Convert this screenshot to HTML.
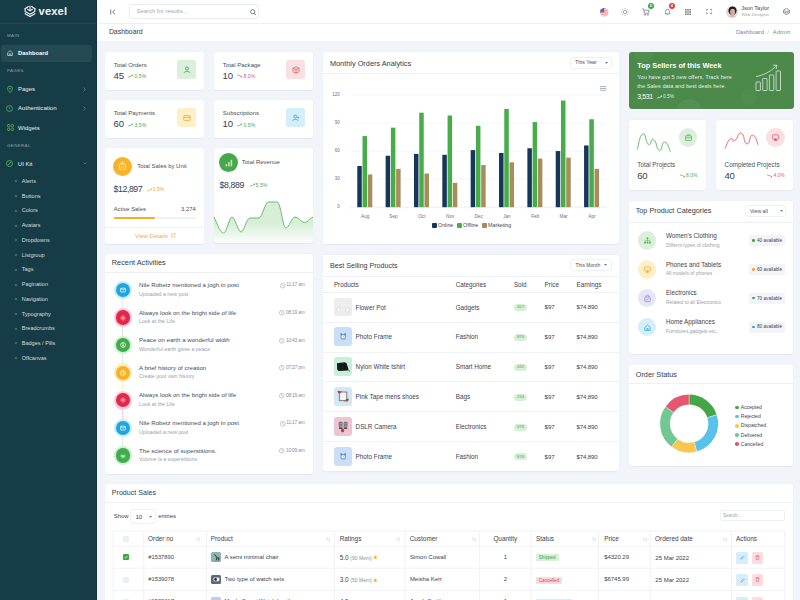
<!DOCTYPE html>
<html><head><meta charset="utf-8"><title>Vexel Dashboard</title>
<style>
html,body{margin:0;padding:0;}
body{width:800px;height:600px;overflow:hidden;position:relative;background:#f0f3f8;font-family:"Liberation Sans",sans-serif;}
.b{position:absolute;display:block;}
.t{position:absolute;white-space:nowrap;line-height:1;}
svg.b{overflow:visible;}
</style></head><body>
<div class="b" style="left:97px;top:0px;width:703px;height:600px;background:#f1f4f8;"></div>
<div class="b" style="left:97px;top:0px;width:703px;height:23px;background:#fff;"></div>
<div class="b" style="left:97px;top:23px;width:703px;height:1px;background:#eef0f3;"></div>
<div class="b" style="left:97px;top:24px;width:703px;height:17px;background:#fff;"></div>
<div class="b" style="left:0px;top:0px;width:97px;height:600px;background:#163d47;"></div>
<div class="b" style="left:96px;top:0px;width:1px;height:600px;background:#12333c;"></div>
<div class="b" style="left:0px;top:23px;width:96px;height:1px;background:rgba(255,255,255,0.06);"></div>
<svg class="b" style="left:24px;top:5.4px;" width="12" height="12.4" viewBox="0 0 12 12.4"><g fill="none" stroke="#f2f5f5" stroke-width="1.15" stroke-linejoin="round" stroke-linecap="round"><path d="M1.1 3.7 L4.3 1.6"/><path d="M7.7 1.6 L10.9 3.7"/><path d="M3.6 4.3 L6 5.9 L8.4 4.3"/><path d="M6 1 V5.4"/><path d="M1.1 3.7 V6.4 L6 9.3 L10.9 6.4 V3.7"/><path d="M1.1 8.7 L6 11.6 L10.9 8.7"/></g></svg>
<div class="t" style="left:38.60px;top:5.91px;font-size:11.2px;color:#f4f7f7;font-weight:700;letter-spacing:0.1px;">vexel</div>
<div class="t" style="left:7.00px;top:34.04px;font-size:4.4px;color:rgba(255,255,255,0.5);font-weight:400;letter-spacing:0.4px;">MAIN</div>
<div class="b" style="left:1.25px;top:44.5px;width:90.5px;height:17.5px;background:rgba(255,255,255,0.07);border-radius:3px;"></div>
<svg class="b" style="left:7px;top:49.5px;" width="6" height="6" viewBox="0 0 6 6"><path d="M0.6 2.8 L3 0.7 L5.4 2.8 L5.4 5.5 L0.6 5.5 Z M2.2 5.5 L2.2 3.8 L3.8 3.8 L3.8 5.5" fill="none" stroke="#c9d3d6" stroke-width="0.7"/></svg>
<div class="t" style="left:18.00px;top:50.58px;font-size:5.75px;color:#fff;font-weight:700;">Dashboard</div>
<div class="t" style="left:7.00px;top:69.34px;font-size:4.4px;color:rgba(255,255,255,0.5);font-weight:400;letter-spacing:0.4px;">PAGES</div>
<svg class="b" style="left:7px;top:85.5px;" width="6" height="7" viewBox="0 0 6 7"><path d="M3 6.6 C1 4.6 0.5 3.6 0.5 2.6 A2.5 2.5 0 0 1 5.5 2.6 C5.5 3.6 5 4.6 3 6.6 Z" fill="none" stroke="#4caf50" stroke-width="0.9"/><circle cx="3" cy="2.6" r="0.9" fill="#4caf50"/></svg>
<div class="t" style="left:18.00px;top:86.26px;font-size:6.0px;color:#e9eef0;font-weight:400;">Pages</div>
<svg class="b" style="left:82.5px;top:86.5px;" width="3" height="5" viewBox="0 0 3 5"><path d="M0.5 0.5 L2.3 2.5 L0.5 4.5" fill="none" stroke="rgba(255,255,255,0.45)" stroke-width="0.6"/></svg>
<svg class="b" style="left:6.3px;top:104.6px;" width="7" height="7" viewBox="0 0 7 7"><circle cx="3.5" cy="3.5" r="3" fill="none" stroke="#4caf50" stroke-width="0.8"/><path d="M3.5 1.8 V4" stroke="#4caf50" stroke-width="0.8"/><circle cx="3.5" cy="5.1" r="0.45" fill="#4caf50"/></svg>
<div class="t" style="left:18.00px;top:105.41px;font-size:6.1px;color:#e9eef0;font-weight:400;">Authentication</div>
<svg class="b" style="left:82.5px;top:105.9px;" width="3" height="5" viewBox="0 0 3 5"><path d="M0.5 0.5 L2.3 2.5 L0.5 4.5" fill="none" stroke="rgba(255,255,255,0.45)" stroke-width="0.6"/></svg>
<svg class="b" style="left:6.8px;top:124px;" width="7" height="7" viewBox="0 0 7 7"><g fill="none" stroke="#4caf50" stroke-width="0.8"><rect x="0.5" y="0.5" width="2.4" height="2.4" rx="0.6"/><rect x="4.1" y="0.5" width="2.4" height="2.4" rx="0.6"/><rect x="0.5" y="4.1" width="2.4" height="2.4" rx="0.6"/><rect x="4.1" y="4.1" width="2.4" height="2.4" rx="0.6"/></g></svg>
<div class="t" style="left:18.00px;top:125.16px;font-size:6.0px;color:#e9eef0;font-weight:400;">Widgets</div>
<div class="t" style="left:7.00px;top:143.84px;font-size:4.4px;color:rgba(255,255,255,0.5);font-weight:400;letter-spacing:0.4px;">GENERAL</div>
<svg class="b" style="left:6.3px;top:159.8px;" width="7" height="7" viewBox="0 0 7 7"><circle cx="3.5" cy="3.5" r="3" fill="none" stroke="#4caf50" stroke-width="0.9"/><path d="M2 5 L4.5 2.5 M3.6 1.8 L5.2 3.4" stroke="#4caf50" stroke-width="0.9"/></svg>
<div class="t" style="left:17.80px;top:160.86px;font-size:6.0px;color:#e9eef0;font-weight:400;">UI Kit</div>
<svg class="b" style="left:82.5px;top:162px;" width="4" height="3" viewBox="0 0 4 3"><path d="M0.5 0.5 L2 2 L3.5 0.5" fill="none" stroke="rgba(255,255,255,0.45)" stroke-width="0.6"/></svg>
<svg class="b" style="left:13.6px;top:179.4px;" width="4" height="4" viewBox="0 0 4 4"><circle cx="2" cy="2" r="1.3" fill="#ffffff" fill-opacity="0.2"/></svg>
<div class="t" style="left:21.75px;top:178.98px;font-size:5.55px;color:#d3dcdf;font-weight:400;">Alerts</div>
<svg class="b" style="left:13.6px;top:194.13px;" width="4" height="4" viewBox="0 0 4 4"><circle cx="2" cy="2" r="1.3" fill="#ffffff" fill-opacity="0.2"/></svg>
<div class="t" style="left:21.75px;top:193.71px;font-size:5.55px;color:#d3dcdf;font-weight:400;">Buttons</div>
<svg class="b" style="left:13.6px;top:208.86px;" width="4" height="4" viewBox="0 0 4 4"><circle cx="2" cy="2" r="1.3" fill="#ffffff" fill-opacity="0.2"/></svg>
<div class="t" style="left:21.75px;top:208.44px;font-size:5.55px;color:#d3dcdf;font-weight:400;">Colors</div>
<svg class="b" style="left:13.6px;top:223.59px;" width="4" height="4" viewBox="0 0 4 4"><circle cx="2" cy="2" r="1.3" fill="#ffffff" fill-opacity="0.2"/></svg>
<div class="t" style="left:21.75px;top:223.17px;font-size:5.55px;color:#d3dcdf;font-weight:400;">Avatars</div>
<svg class="b" style="left:13.6px;top:238.32000000000002px;" width="4" height="4" viewBox="0 0 4 4"><circle cx="2" cy="2" r="1.3" fill="#ffffff" fill-opacity="0.2"/></svg>
<div class="t" style="left:21.75px;top:237.90px;font-size:5.55px;color:#d3dcdf;font-weight:400;">Dropdowns</div>
<svg class="b" style="left:13.6px;top:253.05px;" width="4" height="4" viewBox="0 0 4 4"><circle cx="2" cy="2" r="1.3" fill="#ffffff" fill-opacity="0.2"/></svg>
<div class="t" style="left:21.75px;top:252.63px;font-size:5.55px;color:#d3dcdf;font-weight:400;">Listgroup</div>
<svg class="b" style="left:13.6px;top:267.78000000000003px;" width="4" height="4" viewBox="0 0 4 4"><circle cx="2" cy="2" r="1.3" fill="#ffffff" fill-opacity="0.2"/></svg>
<div class="t" style="left:21.75px;top:267.36px;font-size:5.55px;color:#d3dcdf;font-weight:400;">Tags</div>
<svg class="b" style="left:13.6px;top:282.51000000000005px;" width="4" height="4" viewBox="0 0 4 4"><circle cx="2" cy="2" r="1.3" fill="#ffffff" fill-opacity="0.2"/></svg>
<div class="t" style="left:21.75px;top:282.09px;font-size:5.55px;color:#d3dcdf;font-weight:400;">Pagination</div>
<svg class="b" style="left:13.6px;top:297.24px;" width="4" height="4" viewBox="0 0 4 4"><circle cx="2" cy="2" r="1.3" fill="#ffffff" fill-opacity="0.2"/></svg>
<div class="t" style="left:21.75px;top:296.82px;font-size:5.55px;color:#d3dcdf;font-weight:400;">Navigation</div>
<svg class="b" style="left:13.6px;top:311.97px;" width="4" height="4" viewBox="0 0 4 4"><circle cx="2" cy="2" r="1.3" fill="#ffffff" fill-opacity="0.2"/></svg>
<div class="t" style="left:21.75px;top:311.55px;font-size:5.55px;color:#d3dcdf;font-weight:400;">Typography</div>
<svg class="b" style="left:13.6px;top:326.70000000000005px;" width="4" height="4" viewBox="0 0 4 4"><circle cx="2" cy="2" r="1.3" fill="#ffffff" fill-opacity="0.2"/></svg>
<div class="t" style="left:21.75px;top:326.28px;font-size:5.55px;color:#d3dcdf;font-weight:400;">Breadcrumbs</div>
<svg class="b" style="left:13.6px;top:341.43000000000006px;" width="4" height="4" viewBox="0 0 4 4"><circle cx="2" cy="2" r="1.3" fill="#ffffff" fill-opacity="0.2"/></svg>
<div class="t" style="left:21.75px;top:341.01px;font-size:5.55px;color:#d3dcdf;font-weight:400;">Badges / Pills</div>
<svg class="b" style="left:13.6px;top:356.16px;" width="4" height="4" viewBox="0 0 4 4"><circle cx="2" cy="2" r="1.3" fill="#ffffff" fill-opacity="0.2"/></svg>
<div class="t" style="left:21.75px;top:355.74px;font-size:5.55px;color:#d3dcdf;font-weight:400;">Offcanvas</div>
<svg class="b" style="left:109.5px;top:9px;" width="6" height="6" viewBox="0 0 6 6"><path d="M0.7 0.5 V5.5 M5 0.7 L2.6 3 L5 5.3" fill="none" stroke="#555c68" stroke-width="0.8"/></svg>
<div class="b" style="left:129.3px;top:4.3px;width:129.7px;height:14.399999999999999px;border:0.8px solid #e9ecf0;border-radius:3px;box-sizing:border-box;background:#fff;"></div>
<div class="t" style="left:136.50px;top:9.01px;font-size:5.9px;color:#a3a9b3;font-weight:400;">Search for results...</div>
<svg class="b" style="left:249.5px;top:8.5px;" width="6.5" height="6.5" viewBox="0 0 6.5 6.5"><circle cx="2.7" cy="2.7" r="2.1" fill="none" stroke="#5d6470" stroke-width="0.8"/><path d="M4.3 4.3 L6 6" stroke="#5d6470" stroke-width="0.8"/></svg>
<svg class="b" style="left:599.9px;top:7.5px;" width="8.4" height="8.4" viewBox="0 0 8.4 8.4"><defs><clipPath id="fc"><circle cx="4.2" cy="4.2" r="4.2"/></clipPath></defs><g clip-path="url(#fc)"><rect width="9" height="9" fill="#f7a3ac"/><rect y="1.2" width="9" height="0.9" fill="#fbd3d7"/><rect y="3.2" width="9" height="0.9" fill="#fbd3d7"/><rect y="5.2" width="9" height="0.9" fill="#fbd3d7"/><rect y="7.2" width="9" height="0.9" fill="#fbd3d7"/><rect width="4.3" height="4.4" fill="#5b6fb5"/></g></svg>
<svg class="b" style="left:621px;top:7.5px;" width="8" height="8" viewBox="0 0 8 8"><g stroke="#6b7280" stroke-width="0.6" fill="none"><circle cx="4" cy="4" r="1.7"/><path d="M4 0.3V1.3M4 6.7V7.7M0.3 4H1.3M6.7 4H7.7M1.4 1.4L2.1 2.1M5.9 5.9L6.6 6.6M1.4 6.6L2.1 5.9M5.9 2.1L6.6 1.4"/></g></svg>
<svg class="b" style="left:641.5px;top:8px;" width="8" height="8" viewBox="0 0 8 8"><g stroke="#6b7280" stroke-width="0.7" fill="none"><path d="M0.3 0.8H1.5L2.5 5.2H6.4L7.2 2.2H2"/><circle cx="3" cy="6.7" r="0.6"/><circle cx="6" cy="6.7" r="0.6"/></g></svg>
<div class="b" style="left:647.8px;top:3.2px;width:6.0px;height:5.999999999999999px;background:#3fa843;border-radius:50%;"></div>
<div class="t" style="left:500.80px;width:300px;text-align:center;top:4.24px;font-size:4px;color:#fff;font-weight:700;">5</div>
<svg class="b" style="left:664px;top:7.6px;" width="7" height="8" viewBox="0 0 7 8"><g stroke="#6b7280" stroke-width="0.7" fill="none"><path d="M1 5.8 C1.6 5 1.6 4.2 1.6 3.2 A1.9 1.9 0 0 1 5.4 3.2 C5.4 4.2 5.4 5 6 5.8 Z"/><path d="M2.8 6.8 H4.2"/></g></svg>
<div class="b" style="left:668.8px;top:3.2px;width:6.0px;height:5.999999999999999px;background:#e0374b;border-radius:50%;"></div>
<div class="t" style="left:521.80px;width:300px;text-align:center;top:4.24px;font-size:4px;color:#fff;font-weight:700;">4</div>
<svg class="b" style="left:685px;top:8.8px;" width="6.4" height="6.4" viewBox="0 0 6.4 6.4"><rect x="0.0" y="0.0" width="1.6" height="1.5" rx="0.3" fill="#6f747d"/><rect x="2.2" y="0.0" width="1.6" height="1.5" rx="0.3" fill="#6f747d"/><rect x="4.4" y="0.0" width="1.6" height="1.5" rx="0.3" fill="#6f747d"/><rect x="0.0" y="2.2" width="1.6" height="1.5" rx="0.3" fill="#6f747d"/><rect x="2.2" y="2.2" width="1.6" height="1.5" rx="0.3" fill="#6f747d"/><rect x="4.4" y="2.2" width="1.6" height="1.5" rx="0.3" fill="#6f747d"/><rect x="0.0" y="4.4" width="1.6" height="1.5" rx="0.3" fill="#6f747d"/><rect x="2.2" y="4.4" width="1.6" height="1.5" rx="0.3" fill="#6f747d"/><rect x="4.4" y="4.4" width="1.6" height="1.5" rx="0.3" fill="#6f747d"/></svg>
<svg class="b" style="left:706px;top:8.9px;" width="6" height="5" viewBox="0 0 6 5"><path d="M0.4 1.7V0.4H1.9M4.1 0.4H5.6V1.7M5.6 3.3V4.6H4.1M1.9 4.6H0.4V3.3" fill="none" stroke="#6f747d" stroke-width="0.7"/></svg>
<div class="b" style="left:726px;top:5.7px;width:12.2px;height:12.2px;border-radius:50%;background:#d9d9d9;"></div>
<svg class="b" style="left:726.6px;top:6.3px;" width="11" height="11" viewBox="0 0 11 11"><defs><clipPath id="av"><circle cx="5.5" cy="5.5" r="5.2"/></clipPath></defs><g clip-path="url(#av)"><rect width="11" height="11" fill="#e8e2dc"/><ellipse cx="5.5" cy="4.6" rx="4.1" ry="4.3" fill="#231b18"/><ellipse cx="5.6" cy="5.9" rx="2.5" ry="3.1" fill="#d4ad9a"/><path d="M1.8 11.2 C2.3 8.6 8.8 8.6 9.3 11.2 Z" fill="#cfa893"/></g></svg>
<div class="t" style="left:741.20px;top:5.78px;font-size:5.55px;color:#3e4452;font-weight:400;">Json Taylor</div>
<div class="t" style="left:741.60px;top:13.37px;font-size:4.35px;color:#9aa0aa;font-weight:400;">Web Designer</div>
<svg class="b" style="left:783px;top:8px;" width="7" height="7" viewBox="0 0 7 7"><g fill="none" stroke="#555c68" stroke-width="0.6"><path d="M3.5 0.4 L6.4 2 L6.4 5 L3.5 6.6 L0.6 5 L0.6 2 Z"/><path d="M0.6 3.5 L3.5 5 L6.4 3.5"/><path d="M1.6 2.6 L3.5 3.6 L5.4 2.6"/></g></svg>
<div class="t" style="left:108.90px;top:29.12px;font-size:6.9px;color:#333a48;font-weight:400;">Dashboard</div>
<div class="t" style="left:736.00px;top:29.71px;font-size:5.7px;color:#7783a3;font-weight:400;">Dashboard</div>
<div class="t" style="left:767.30px;top:29.71px;font-size:5.7px;color:#b6bcc6;font-weight:400;">/</div>
<div class="t" style="left:772.80px;top:29.71px;font-size:5.7px;color:#52a456;font-weight:400;letter-spacing:0.3px;">Admin</div>
<div class="b" style="left:105px;top:52px;width:99px;height:37.8px;background:#fff;border-radius:3px;box-shadow:0 0.5px 1.5px rgba(30,40,60,0.06);"></div>
<div class="t" style="left:113.75px;top:61.54px;font-size:6.05px;color:#474e5c;font-weight:400;">Total Orders</div>
<div class="t" style="left:113.60px;top:70.80px;font-size:9.6px;color:#343b49;font-weight:400;letter-spacing:-0.2px;">45</div>
<svg class="b" style="left:128.2px;top:74.2px;" width="5" height="4.2" viewBox="0 0 5 4.2"><path d="M0.3 3.2 L1.9 2.3 L2.7 2.6 L4.2 1.4" fill="none" stroke="#52a856" stroke-width="0.7" stroke-linejoin="round" stroke-linecap="round"/><path d="M3.2 0.95 L5 0.6 L4.5 2.3 Z" fill="#52a856"/></svg>
<div class="t" style="left:134.60px;top:74.40px;font-size:5.1px;color:#52a856;font-weight:400;">0.5%</div>
<div class="b" style="left:177.1px;top:60.1px;width:18.700000000000017px;height:18.800000000000004px;background:#dcefdc;border-radius:2.5px;"></div>
<svg class="b" style="left:182.5px;top:65.5px;" width="8" height="8" viewBox="0 0 8 8"><g fill="none" stroke="#4cae50" stroke-width="0.8"><circle cx="4" cy="2.6" r="1.6"/><path d="M1 7.2 C1 4.8 7 4.8 7 7.2"/></g></svg>
<div class="b" style="left:214px;top:52px;width:99px;height:37.8px;background:#fff;border-radius:3px;box-shadow:0 0.5px 1.5px rgba(30,40,60,0.06);"></div>
<div class="t" style="left:222.75px;top:61.54px;font-size:6.05px;color:#474e5c;font-weight:400;">Total Package</div>
<div class="t" style="left:222.60px;top:70.80px;font-size:9.6px;color:#343b49;font-weight:400;letter-spacing:-0.2px;">10</div>
<svg class="b" style="left:237.2px;top:74.2px;" width="5" height="4.2" viewBox="0 0 5 4.2"><path d="M0.3 0.8 L1.9 1.7 L2.7 1.4 L4.2 2.6" fill="none" stroke="#e0606f" stroke-width="0.7" stroke-linejoin="round" stroke-linecap="round"/><path d="M3.2 3.05 L5 3.4 L4.5 1.7 Z" fill="#e0606f"/></svg>
<div class="t" style="left:243.60px;top:74.40px;font-size:5.1px;color:#e0606f;font-weight:400;">8.0%</div>
<div class="b" style="left:286.1px;top:60.1px;width:18.69999999999999px;height:18.800000000000004px;background:#fbe0e3;border-radius:2.5px;"></div>
<svg class="b" style="left:291.5px;top:65.5px;" width="8" height="8" viewBox="0 0 8 8"><g fill="none" stroke="#e05263" stroke-width="0.75" stroke-linejoin="round"><path d="M4 0.8 L7 2.3 L7 5.7 L4 7.2 L1 5.7 L1 2.3 Z"/><path d="M1 2.3 L4 3.8 L7 2.3 M4 3.8 V7.2"/></g></svg>
<div class="b" style="left:105px;top:100.3px;width:99px;height:37.8px;background:#fff;border-radius:3px;box-shadow:0 0.5px 1.5px rgba(30,40,60,0.06);"></div>
<div class="t" style="left:113.75px;top:109.84px;font-size:6.05px;color:#474e5c;font-weight:400;">Total Payments</div>
<div class="t" style="left:113.60px;top:119.10px;font-size:9.6px;color:#343b49;font-weight:400;letter-spacing:-0.2px;">60</div>
<svg class="b" style="left:128.2px;top:122.5px;" width="5" height="4.2" viewBox="0 0 5 4.2"><path d="M0.3 3.2 L1.9 2.3 L2.7 2.6 L4.2 1.4" fill="none" stroke="#52a856" stroke-width="0.7" stroke-linejoin="round" stroke-linecap="round"/><path d="M3.2 0.95 L5 0.6 L4.5 2.3 Z" fill="#52a856"/></svg>
<div class="t" style="left:134.60px;top:122.70px;font-size:5.1px;color:#52a856;font-weight:400;">3.5%</div>
<div class="b" style="left:177.1px;top:108.39999999999999px;width:18.700000000000017px;height:18.799999999999997px;background:#fdefc8;border-radius:2.5px;"></div>
<svg class="b" style="left:182.5px;top:113.8px;" width="8" height="8" viewBox="0 0 8 8"><g fill="none" stroke="#f2a72c" stroke-width="0.8"><rect x="0.8" y="1.6" width="6.4" height="4.8" rx="0.7"/><path d="M0.8 3.4 H7.2"/></g></svg>
<div class="b" style="left:214px;top:100.3px;width:99px;height:37.8px;background:#fff;border-radius:3px;box-shadow:0 0.5px 1.5px rgba(30,40,60,0.06);"></div>
<div class="t" style="left:222.75px;top:109.84px;font-size:6.05px;color:#474e5c;font-weight:400;">Subscriptions</div>
<div class="t" style="left:222.60px;top:119.10px;font-size:9.6px;color:#343b49;font-weight:400;letter-spacing:-0.2px;">10</div>
<svg class="b" style="left:237.2px;top:122.5px;" width="5" height="4.2" viewBox="0 0 5 4.2"><path d="M0.3 3.2 L1.9 2.3 L2.7 2.6 L4.2 1.4" fill="none" stroke="#52a856" stroke-width="0.7" stroke-linejoin="round" stroke-linecap="round"/><path d="M3.2 0.95 L5 0.6 L4.5 2.3 Z" fill="#52a856"/></svg>
<div class="t" style="left:243.60px;top:122.70px;font-size:5.1px;color:#52a856;font-weight:400;">0.5%</div>
<div class="b" style="left:286.1px;top:108.39999999999999px;width:18.69999999999999px;height:18.799999999999997px;background:#d4eefa;border-radius:2.5px;"></div>
<svg class="b" style="left:291.5px;top:113.8px;" width="8" height="8" viewBox="0 0 8 8"><g fill="none" stroke="#2aa2dc" stroke-width="0.75"><circle cx="3.3" cy="2.6" r="1.5"/><path d="M0.6 7 C0.6 4.8 6 4.8 6 7"/><path d="M6.2 2.8 V4.6 M5.3 3.7 H7.1"/></g></svg>
<div class="b" style="left:105px;top:148.3px;width:99px;height:95.29999999999998px;background:#fff;border-radius:3px;box-shadow:0 0.5px 1.5px rgba(30,40,60,0.06);"></div>
<div class="b" style="left:113.3px;top:156.9px;width:19.000000000000014px;height:19.0px;background:#f6b42a;border-radius:50%;"></div>
<svg class="b" style="left:119.3px;top:162.3px;opacity:0.85" width="7" height="8" viewBox="0 0 7 8"><g fill="none" stroke="#fff" stroke-width="0.7" stroke-linejoin="round"><rect x="0.6" y="2" width="5.8" height="5.3" rx="0.6"/><path d="M2.2 2 V1.2 A1.3 1.3 0 0 1 4.8 1.2 V2"/><path d="M2.3 4.8 L3.2 5.7 L4.8 4"/></g></svg>
<div class="t" style="left:137.30px;top:163.27px;font-size:5.98px;color:#474e5c;font-weight:400;">Total Sales by Unit</div>
<div class="t" style="left:113.60px;top:184.79px;font-size:8.8px;color:#3a404d;font-weight:400;letter-spacing:-0.45px;">$12,897</div>
<svg class="b" style="left:147px;top:187.6px;" width="5" height="4.2" viewBox="0 0 5 4.2"><path d="M0.3 3.2 L1.9 2.3 L2.7 2.6 L4.2 1.4" fill="none" stroke="#f2a84a" stroke-width="0.7" stroke-linejoin="round" stroke-linecap="round"/><path d="M3.2 0.95 L5 0.6 L4.5 2.3 Z" fill="#f2a84a"/></svg>
<div class="t" style="left:152.60px;top:187.25px;font-size:5.2px;color:#f2a84a;font-weight:400;">3.5%</div>
<div class="t" style="left:113.70px;top:206.93px;font-size:5.85px;color:#474e5c;font-weight:400;">Active Sales</div>
<div class="t" style="right:604.30px;top:206.93px;font-size:5.85px;color:#474e5c;font-weight:400;">3,274</div>
<div class="b" style="left:113.7px;top:217.4px;width:81.99999999999999px;height:2.0px;background:#eef1f6;border-radius:1px;"></div>
<div class="b" style="left:113.7px;top:217.4px;width:41.10000000000001px;height:2.0px;background:#f6ad1f;border-radius:1px;"></div>
<div class="b" style="left:105px;top:227.3px;width:99px;height:0.6999999999999886px;background:#f1f3f6;"></div>
<div class="t" style="left:1.50px;width:300px;text-align:center;top:232.76px;font-size:6.0px;color:#f2aa4c;font-weight:400;">View Details</div>
<svg class="b" style="left:171px;top:233.3px;" width="4.6" height="4.6" viewBox="0 0 4.6 4.6"><path d="M2 0.8 H0.6 V4 H3.8 V2.6 M2.6 0.4 H4.2 V2 M4.2 0.4 L2.2 2.4" fill="none" stroke="#f2aa4c" stroke-width="0.55"/></svg>
<div class="b" style="left:214px;top:148.3px;width:98.80000000000001px;height:94.5px;background:#fff;border-radius:3px;box-shadow:0 0.5px 1.5px rgba(30,40,60,0.06);overflow:hidden;"></div>
<div class="b" style="left:219.2px;top:153.2px;width:19.0px;height:19.0px;background:#46a84a;border-radius:50%;"></div>
<svg class="b" style="left:224.7px;top:158.6px;" width="8" height="8" viewBox="0 0 8 8"><g fill="#bfe3c0"><rect x="0.6" y="5" width="1.6" height="2.4"/><rect x="3.1" y="3" width="1.6" height="4.4"/><rect x="5.6" y="0.8" width="1.6" height="6.6"/></g></svg>
<div class="t" style="left:241.80px;top:159.98px;font-size:5.95px;color:#474e5c;font-weight:400;">Total Revenue</div>
<div class="t" style="left:219.60px;top:181.29px;font-size:8.8px;color:#3a404d;font-weight:400;letter-spacing:-0.4px;">$8,889</div>
<svg class="b" style="left:250px;top:183.3px;" width="5" height="4.2" viewBox="0 0 5 4.2"><path d="M0.3 3.2 L1.9 2.3 L2.7 2.6 L4.2 1.4" fill="none" stroke="#52a856" stroke-width="0.7" stroke-linejoin="round" stroke-linecap="round"/><path d="M3.2 0.95 L5 0.6 L4.5 2.3 Z" fill="#52a856"/></svg>
<div class="t" style="left:255.60px;top:182.85px;font-size:5.2px;color:#52a856;font-weight:400;">5.5%</div>
<svg class="b" style="left:214px;top:148.3px;" width="99" height="95" viewBox="0 0 99 95"><defs><linearGradient id="rg" x1="0" y1="0" x2="0" y2="1"><stop offset="0.5" stop-color="#4caf50" stop-opacity="0.22"/><stop offset="1" stop-color="#4caf50" stop-opacity="0.02"/></linearGradient></defs><path d="M0 69 C3 75 6 85 9.5 85 C13 85 15 69 18 69 C21 69 24 84 27 84 C30 84 32.5 70 36 70 L45 70 C48 70 51 54 54.5 54 L63 54 C67 54 68.5 80 72 80 C75 80 77.5 69 81 69 C84.5 69 87 74.5 90.5 74.5 C93.5 74.5 96 70 99 69 L99 95 L0 95 Z" fill="url(#rg)"/><path d="M0 69 C3 75 6 85 9.5 85 C13 85 15 69 18 69 C21 69 24 84 27 84 C30 84 32.5 70 36 70 L45 70 C48 70 51 54 54.5 54 L63 54 C67 54 68.5 80 72 80 C75 80 77.5 69 81 69 C84.5 69 87 74.5 90.5 74.5 C93.5 74.5 96 70 99 69" fill="none" stroke="#5cb85f" stroke-width="0.9"/></svg>
<div class="b" style="left:323px;top:52px;width:295.79999999999995px;height:191.7px;background:#fff;border-radius:3px;box-shadow:0 0.5px 1.5px rgba(30,40,60,0.06);"></div>
<div class="t" style="left:329.90px;top:59.50px;font-size:7.35px;color:#343b49;font-weight:400;">Monthly Orders Analytics</div>
<div class="b" style="left:323px;top:73.2px;width:295.79999999999995px;height:0.7000000000000028px;background:#eef0f4;"></div>
<div class="b" style="left:569.6px;top:56.9px;width:42.799999999999955px;height:11.899999999999999px;border:0.7px solid #edf0f4;border-radius:3px;box-sizing:border-box;"></div>
<div class="t" style="left:575.00px;top:60.35px;font-size:5.2px;color:#4a5160;font-weight:400;">This Year</div>
<svg class="b" style="left:604.5px;top:61.8px;" width="3" height="2" viewBox="0 0 3 2"><path d="M0 0 H3 L1.5 1.8 Z" fill="#6b7280"/></svg>
<svg class="b" style="left:600px;top:86px;" width="6.3" height="5" viewBox="0 0 6.3 5"><g stroke="#a3aebb" stroke-width="0.95"><path d="M0 0.6H6.3M0 2.45H6.3M0 4.3H6.3"/></g></svg>
<div class="t" style="right:460.20px;top:204.99px;font-size:4.5px;color:#6b7280;font-weight:400;">0</div>
<div class="t" style="right:460.20px;top:176.92px;font-size:4.5px;color:#6b7280;font-weight:400;">30</div>
<div class="t" style="right:460.20px;top:148.85px;font-size:4.5px;color:#6b7280;font-weight:400;">60</div>
<div class="t" style="right:460.20px;top:120.78px;font-size:4.5px;color:#6b7280;font-weight:400;">90</div>
<div class="t" style="right:460.20px;top:92.71px;font-size:4.5px;color:#6b7280;font-weight:400;">120</div>
<div class="t" style="left:215.18px;width:300px;text-align:center;top:215.10px;font-size:4.7px;color:#6b7280;font-weight:400;">Aug</div>
<div class="t" style="left:243.53px;width:300px;text-align:center;top:215.10px;font-size:4.7px;color:#6b7280;font-weight:400;">Sep</div>
<div class="t" style="left:271.88px;width:300px;text-align:center;top:215.10px;font-size:4.7px;color:#6b7280;font-weight:400;">Oct</div>
<div class="t" style="left:300.23px;width:300px;text-align:center;top:215.10px;font-size:4.7px;color:#6b7280;font-weight:400;">Nov</div>
<div class="t" style="left:328.57px;width:300px;text-align:center;top:215.10px;font-size:4.7px;color:#6b7280;font-weight:400;">Dec</div>
<div class="t" style="left:356.93px;width:300px;text-align:center;top:215.10px;font-size:4.7px;color:#6b7280;font-weight:400;">Jan</div>
<div class="t" style="left:385.27px;width:300px;text-align:center;top:215.10px;font-size:4.7px;color:#6b7280;font-weight:400;">Feb</div>
<div class="t" style="left:413.62px;width:300px;text-align:center;top:215.10px;font-size:4.7px;color:#6b7280;font-weight:400;">Mar</div>
<div class="t" style="left:441.97px;width:300px;text-align:center;top:215.10px;font-size:4.7px;color:#6b7280;font-weight:400;">Apr</div>
<svg class="b" style="left:0px;top:0px;pointer-events:none;" width="800" height="600" viewBox="0 0 800 600"><path d="M351 179.13 H606.2" stroke="#eceef2" stroke-width="0.6"/><path d="M351 151.06 H606.2" stroke="#eceef2" stroke-width="0.6"/><path d="M351 122.99 H606.2" stroke="#eceef2" stroke-width="0.6"/><path d="M351 94.92 H606.2" stroke="#eceef2" stroke-width="0.6"/><path d="M351 207.20 H606.2" stroke="#e2e5ea" stroke-width="0.6"/><path d="M351.00 207.20 V209.20" stroke="#e2e5ea" stroke-width="0.5"/><path d="M379.35 207.20 V209.20" stroke="#e2e5ea" stroke-width="0.5"/><path d="M407.70 207.20 V209.20" stroke="#e2e5ea" stroke-width="0.5"/><path d="M436.05 207.20 V209.20" stroke="#e2e5ea" stroke-width="0.5"/><path d="M464.40 207.20 V209.20" stroke="#e2e5ea" stroke-width="0.5"/><path d="M492.75 207.20 V209.20" stroke="#e2e5ea" stroke-width="0.5"/><path d="M521.10 207.20 V209.20" stroke="#e2e5ea" stroke-width="0.5"/><path d="M549.45 207.20 V209.20" stroke="#e2e5ea" stroke-width="0.5"/><path d="M577.80 207.20 V209.20" stroke="#e2e5ea" stroke-width="0.5"/><path d="M606.15 207.20 V209.20" stroke="#e2e5ea" stroke-width="0.5"/><rect x="357.28" y="166.03" width="4.5" height="41.17" fill="#16365a"/><rect x="362.53" y="136.09" width="4.5" height="71.11" fill="#46ad49"/><rect x="367.78" y="174.45" width="4.5" height="32.75" fill="#a88d5c"/><rect x="385.63" y="155.74" width="4.5" height="51.46" fill="#16365a"/><rect x="390.88" y="127.67" width="4.5" height="79.53" fill="#46ad49"/><rect x="396.13" y="168.84" width="4.5" height="38.36" fill="#a88d5c"/><rect x="413.98" y="153.87" width="4.5" height="53.33" fill="#16365a"/><rect x="419.23" y="112.70" width="4.5" height="94.50" fill="#46ad49"/><rect x="424.48" y="173.52" width="4.5" height="33.68" fill="#a88d5c"/><rect x="442.33" y="154.80" width="4.5" height="52.40" fill="#16365a"/><rect x="447.58" y="115.50" width="4.5" height="91.70" fill="#46ad49"/><rect x="452.83" y="182.87" width="4.5" height="24.33" fill="#a88d5c"/><rect x="470.68" y="150.12" width="4.5" height="57.08" fill="#16365a"/><rect x="475.93" y="125.80" width="4.5" height="81.40" fill="#46ad49"/><rect x="481.18" y="165.09" width="4.5" height="42.10" fill="#a88d5c"/><rect x="499.03" y="152.93" width="4.5" height="54.27" fill="#16365a"/><rect x="504.28" y="108.95" width="4.5" height="98.25" fill="#46ad49"/><rect x="509.53" y="162.29" width="4.5" height="44.91" fill="#a88d5c"/><rect x="527.38" y="148.25" width="4.5" height="58.95" fill="#16365a"/><rect x="532.62" y="122.05" width="4.5" height="85.15" fill="#46ad49"/><rect x="537.88" y="158.55" width="4.5" height="48.65" fill="#a88d5c"/><rect x="555.73" y="151.06" width="4.5" height="56.14" fill="#16365a"/><rect x="560.98" y="100.53" width="4.5" height="106.67" fill="#46ad49"/><rect x="566.23" y="157.61" width="4.5" height="49.59" fill="#a88d5c"/><rect x="584.07" y="145.45" width="4.5" height="61.75" fill="#16365a"/><rect x="589.32" y="119.25" width="4.5" height="87.95" fill="#46ad49"/><rect x="594.57" y="168.84" width="4.5" height="38.36" fill="#a88d5c"/></svg>
<div class="b" style="left:432.1px;top:222.8px;width:4.800000000000011px;height:4.799999999999983px;background:#16365a;border-radius:0.9px;"></div>
<div class="t" style="left:438.10px;top:223.03px;font-size:5.25px;color:#3e4452;font-weight:400;">Online</div>
<div class="b" style="left:457.1px;top:222.8px;width:4.800000000000011px;height:4.799999999999983px;background:#46ad49;border-radius:0.9px;"></div>
<div class="t" style="left:463.10px;top:223.03px;font-size:5.25px;color:#3e4452;font-weight:400;">Offline</div>
<div class="b" style="left:482.1px;top:222.8px;width:4.800000000000011px;height:4.799999999999983px;background:#a88d5c;border-radius:0.9px;"></div>
<div class="t" style="left:488.10px;top:223.03px;font-size:5.25px;color:#3e4452;font-weight:400;">Marketing</div>
<div class="b" style="left:628.3px;top:51.6px;width:165.9000000000001px;height:58.6px;background:#fff;border-radius:3.5px;"></div>
<div class="b" style="left:629px;top:52.3px;width:164.5px;height:57.2px;background:#4b8a4b;border-radius:3px;overflow:hidden;"></div>
<svg class="b" style="left:629px;top:52.3px;" width="164.5" height="57.2" viewBox="0 0 164.5 57.2"><circle cx="60" cy="60" r="13" fill="#ffffff" fill-opacity="0.05"/><circle cx="15" cy="0" r="10" fill="#ffffff" fill-opacity="0.03"/><circle cx="120" cy="45" r="8" fill="#ffffff" fill-opacity="0.03"/></svg>
<div class="t" style="left:637.30px;top:62.20px;font-size:7.35px;color:#fff;font-weight:700;">Top Sellers of this Week</div>
<div class="t" style="left:637.30px;top:74.73px;font-size:5.65px;color:rgba(255,255,255,0.88);font-weight:400;">You have got 5 new offers, Track here</div>
<div class="t" style="left:637.30px;top:83.63px;font-size:5.65px;color:rgba(255,255,255,0.88);font-weight:400;">the Sales data and best deals here.</div>
<div class="t" style="left:637.30px;top:93.47px;font-size:7.0px;color:#fff;font-weight:400;letter-spacing:-0.4px;">3,531</div>
<svg class="b" style="left:657.4px;top:94.6px;" width="5" height="4.2" viewBox="0 0 5 4.2"><path d="M0.3 3.2 L1.9 2.3 L2.7 2.6 L4.2 1.4" fill="none" stroke="#fff" stroke-width="0.7" stroke-linejoin="round" stroke-linecap="round"/><path d="M3.2 0.95 L5 0.6 L4.5 2.3 Z" fill="#fff"/></svg>
<div class="t" style="left:663.00px;top:94.50px;font-size:4.9px;color:rgba(255,255,255,0.85);font-weight:400;">0.5%</div>
<svg class="b" style="left:754.5px;top:63.5px;" width="29" height="27" viewBox="0 0 29 27"><g fill="none" stroke="rgba(255,255,255,0.8)" stroke-width="0.8"><rect x="1" y="18" width="4.4" height="8.5" rx="0.6"/><rect x="7.7" y="14.5" width="4.4" height="12" rx="0.6"/><rect x="14.4" y="11" width="4.4" height="15.5" rx="0.6"/><rect x="21.1" y="7" width="4.4" height="19.5" rx="0.6"/><path d="M1 12.5 C8 11.5 15 8 21.5 1.8"/><path d="M17.8 1.2 L22 1.2 L21.2 5"/></g></svg>
<div class="b" style="left:629px;top:119.9px;width:77px;height:69.69999999999999px;background:#fff;border-radius:3px;box-shadow:0 0.5px 1.5px rgba(30,40,60,0.06);"></div>
<svg class="b" style="left:637.3px;top:130px;" width="36" height="24" viewBox="0 0 36 24"><path d="M0.10 19.40 C2.03 14.23 2.13 5.67 5.90 3.90 C9.67 2.13 7.80 12.27 11.40 14.10 C15.00 15.93 13.03 7.40 16.70 9.40 C20.37 11.40 18.73 19.23 22.40 20.10 C26.07 20.97 24.00 11.50 27.70 12.00 C31.40 12.50 31.57 18.40 33.50 21.60" fill="none" stroke="#5cb264" stroke-width="0.8"/><path d="M0.10 19.40 C2.03 14.23 2.13 5.67 5.90 3.90 C9.67 2.13 7.80 12.27 11.40 14.10 C15.00 15.93 13.03 7.40 16.70 9.40 C20.37 11.40 18.73 19.23 22.40 20.10 C26.07 20.97 24.00 11.50 27.70 12.00 C31.40 12.50 31.57 18.40 33.50 21.60" transform="translate(0 1.2)" fill="none" stroke="#5cb264" stroke-opacity="0.15" stroke-width="1.2"/></svg>
<div class="b" style="left:678.7px;top:128.2px;width:18.59999999999991px;height:18.600000000000023px;background:#dcefdc;border-radius:50%;"></div>
<svg class="b" style="left:684.5px;top:134px;" width="7" height="7" viewBox="0 0 7 7"><g fill="none" stroke="#4caf50" stroke-width="0.7"><rect x="0.5" y="1.8" width="6" height="4.6" rx="0.6"/><path d="M2.5 1.8 V0.8 H4.5 V1.8 M0.5 3.8 H6.5"/></g></svg>
<div class="t" style="left:637.30px;top:161.71px;font-size:6.3px;color:#474e5c;font-weight:400;">Total Projects</div>
<div class="t" style="left:637.20px;top:171.44px;font-size:9.5px;color:#3a404d;font-weight:400;letter-spacing:-0.3px;">60</div>
<svg class="b" style="left:679.6px;top:173.6px;" width="5" height="4.2" viewBox="0 0 5 4.2"><path d="M0.3 0.8 L1.9 1.7 L2.7 1.4 L4.2 2.6" fill="none" stroke="#52a856" stroke-width="0.7" stroke-linejoin="round" stroke-linecap="round"/><path d="M3.2 3.05 L5 3.4 L4.5 1.7 Z" fill="#52a856"/></svg>
<div class="t" style="right:102.50px;top:173.15px;font-size:5.0px;color:#52a856;font-weight:400;">8.0%</div>
<div class="b" style="left:716.3px;top:119.9px;width:77.0px;height:69.69999999999999px;background:#fff;border-radius:3px;box-shadow:0 0.5px 1.5px rgba(30,40,60,0.06);"></div>
<svg class="b" style="left:724.5999999999999px;top:130px;" width="36" height="24" viewBox="0 0 36 24"><path d="M0.00 18.40 C1.77 15.20 2.00 11.50 5.30 8.80 C8.60 6.10 6.23 12.20 9.90 10.30 C13.57 8.40 12.33 1.97 16.30 3.10 C20.27 4.23 18.03 13.00 21.80 13.70 C25.57 14.40 23.77 4.93 27.60 5.20 C31.43 5.47 31.40 11.40 33.30 14.50" fill="none" stroke="#d8626d" stroke-width="0.8"/><path d="M0.00 18.40 C1.77 15.20 2.00 11.50 5.30 8.80 C8.60 6.10 6.23 12.20 9.90 10.30 C13.57 8.40 12.33 1.97 16.30 3.10 C20.27 4.23 18.03 13.00 21.80 13.70 C25.57 14.40 23.77 4.93 27.60 5.20 C31.43 5.47 31.40 11.40 33.30 14.50" transform="translate(0 1.2)" fill="none" stroke="#d8626d" stroke-opacity="0.15" stroke-width="1.2"/></svg>
<div class="b" style="left:766.0px;top:128.2px;width:18.59999999999991px;height:18.600000000000023px;background:#fbe0e3;border-radius:50%;"></div>
<svg class="b" style="left:771.8px;top:134px;" width="7" height="7" viewBox="0 0 7 7"><g fill="none" stroke="#e05263" stroke-width="0.7"><rect x="0.6" y="0.8" width="5.8" height="4.4" rx="0.5"/><path d="M2.2 6.4 L3.5 4.4 L4.8 6.4 Z" fill="#e05263"/></g></svg>
<div class="t" style="left:724.60px;top:161.71px;font-size:6.3px;color:#474e5c;font-weight:400;">Completed Projects</div>
<div class="t" style="left:724.50px;top:171.44px;font-size:9.5px;color:#3a404d;font-weight:400;letter-spacing:-0.3px;">40</div>
<svg class="b" style="left:766.9px;top:173.6px;" width="5" height="4.2" viewBox="0 0 5 4.2"><path d="M0.3 0.8 L1.9 1.7 L2.7 1.4 L4.2 2.6" fill="none" stroke="#e0606f" stroke-width="0.7" stroke-linejoin="round" stroke-linecap="round"/><path d="M3.2 3.05 L5 3.4 L4.5 1.7 Z" fill="#e0606f"/></svg>
<div class="t" style="right:15.20px;top:173.15px;font-size:5.0px;color:#e0606f;font-weight:400;">4.0%</div>
<div class="b" style="left:629px;top:200.5px;width:164px;height:153.8px;background:#fff;border-radius:3px;box-shadow:0 0.5px 1.5px rgba(30,40,60,0.06);"></div>
<div class="t" style="left:635.70px;top:206.55px;font-size:7.25px;color:#343b49;font-weight:400;">Top Product Categories</div>
<div class="b" style="left:744.5px;top:205.2px;width:41.89999999999998px;height:12.0px;border:0.7px solid #edf0f4;border-radius:3px;box-sizing:border-box;"></div>
<div class="t" style="left:750.00px;top:208.75px;font-size:5.2px;color:#4a5160;font-weight:400;">View all</div>
<svg class="b" style="left:779.5px;top:210.2px;" width="3" height="2" viewBox="0 0 3 2"><path d="M0 0 H3 L1.5 1.8 Z" fill="#6b7280"/></svg>
<div class="b" style="left:629px;top:221.8px;width:164px;height:0.6999999999999886px;background:#eef0f4;"></div>
<div class="b" style="left:637.7px;top:230.95000000000002px;width:18.699999999999932px;height:18.69999999999999px;background:#dcefdc;border-radius:50%;"></div>
<svg class="b" style="left:643.6px;top:236.8px;" width="7" height="7" viewBox="0 0 7 7"><g fill="#4caf50"><rect x="2.6" y="0.4" width="1.8" height="1.6" rx="0.3"/><rect x="0.2" y="4.8" width="1.8" height="1.6" rx="0.3"/><rect x="2.6" y="4.8" width="1.8" height="1.6" rx="0.3"/><rect x="5" y="4.8" width="1.8" height="1.6" rx="0.3"/></g><path d="M3.5 2 V4.8 M1.1 4.8 V3.4 H5.9 V4.8" fill="none" stroke="#4caf50" stroke-width="0.5"/></svg>
<div class="t" style="left:665.90px;top:232.61px;font-size:6.3px;color:#3e4452;font-weight:400;">Women's Clothing</div>
<div class="t" style="left:665.90px;top:242.55px;font-size:5.0px;color:#9aa0aa;font-weight:400;">Differnt types of clothing</div>
<div class="b" style="left:749px;top:234.8px;width:35.799999999999955px;height:11.0px;background:#f2f4f7;border-radius:2px;"></div>
<div class="b" style="left:752.4px;top:238.95000000000002px;width:2.7000000000000455px;height:2.6999999999999886px;background:#3fa843;border-radius:50%;"></div>
<div class="t" style="left:757.00px;top:238.70px;font-size:4.7px;color:#3e4452;font-weight:400;">40 available</div>
<div class="b" style="left:637.7px;top:259.84999999999997px;width:18.699999999999932px;height:18.700000000000045px;background:#fdefc8;border-radius:50%;"></div>
<svg class="b" style="left:643.6px;top:265.7px;" width="7" height="7" viewBox="0 0 7 7"><g fill="none" stroke="#f2a72c" stroke-width="0.7"><rect x="0.5" y="1" width="6" height="4" rx="0.5"/><path d="M2.3 6.4 L3.5 4.8 L4.7 6.4 Z" fill="#f2a72c"/></g></svg>
<div class="t" style="left:665.90px;top:261.51px;font-size:6.3px;color:#3e4452;font-weight:400;">Phones and Tablets</div>
<div class="t" style="left:665.90px;top:271.45px;font-size:5.0px;color:#9aa0aa;font-weight:400;">All models of phones</div>
<div class="b" style="left:749px;top:263.7px;width:35.799999999999955px;height:11.0px;background:#f2f4f7;border-radius:2px;"></div>
<div class="b" style="left:752.4px;top:267.84999999999997px;width:2.7000000000000455px;height:2.7000000000000455px;background:#f2a72c;border-radius:50%;"></div>
<div class="t" style="left:757.00px;top:267.60px;font-size:4.7px;color:#3e4452;font-weight:400;">60 available</div>
<div class="b" style="left:637.7px;top:288.75px;width:18.699999999999932px;height:18.700000000000045px;background:#e6e6f8;border-radius:50%;"></div>
<svg class="b" style="left:643.6px;top:294.6px;" width="7" height="7" viewBox="0 0 7 7"><g fill="none" stroke="#7a76d6" stroke-width="0.65"><rect x="0.8" y="2" width="5.4" height="4.6" rx="0.6"/><path d="M2.3 2 V1.3 A1.2 1.2 0 0 1 4.7 1.3 V2"/><path d="M2.4 4.3 L3.2 5.1 L4.6 3.6"/></g></svg>
<div class="t" style="left:665.90px;top:290.41px;font-size:6.3px;color:#3e4452;font-weight:400;">Electronics</div>
<div class="t" style="left:665.90px;top:300.35px;font-size:5.0px;color:#9aa0aa;font-weight:400;">Related to all Electronics</div>
<div class="b" style="left:749px;top:292.6px;width:35.799999999999955px;height:11.0px;background:#f2f4f7;border-radius:2px;"></div>
<div class="b" style="left:752.4px;top:296.75px;width:2.7000000000000455px;height:2.7000000000000455px;background:#3fa843;border-radius:50%;"></div>
<div class="t" style="left:757.00px;top:296.50px;font-size:4.7px;color:#3e4452;font-weight:400;">70 available</div>
<div class="b" style="left:637.7px;top:317.65px;width:18.699999999999932px;height:18.700000000000045px;background:#d4eefa;border-radius:50%;"></div>
<svg class="b" style="left:643.6px;top:323.5px;" width="7" height="7" viewBox="0 0 7 7"><g fill="none" stroke="#2aa2dc" stroke-width="0.7"><path d="M0.8 3.4 L3.5 0.9 L6.2 3.4 V6.4 H0.8 Z"/><path d="M2.8 6.4 V4.6 H4.2 V6.4"/></g></svg>
<div class="t" style="left:665.90px;top:319.31px;font-size:6.3px;color:#3e4452;font-weight:400;">Home Appliances</div>
<div class="t" style="left:665.90px;top:329.25px;font-size:5.0px;color:#9aa0aa;font-weight:400;">Furnitures,gadgets etc..</div>
<div class="b" style="left:749px;top:321.5px;width:35.799999999999955px;height:11.0px;background:#f2f4f7;border-radius:2px;"></div>
<div class="b" style="left:752.4px;top:325.65px;width:2.7000000000000455px;height:2.7000000000000455px;background:#2a9fe0;border-radius:50%;"></div>
<div class="t" style="left:757.00px;top:325.40px;font-size:4.7px;color:#3e4452;font-weight:400;">80 available</div>
<div class="b" style="left:629px;top:365.1px;width:164.29999999999995px;height:100.59999999999997px;background:#fff;border-radius:3px;box-shadow:0 0.5px 1.5px rgba(30,40,60,0.06);"></div>
<div class="t" style="left:635.80px;top:370.55px;font-size:7.25px;color:#343b49;font-weight:400;">Order Status</div>
<div class="b" style="left:629px;top:383.3px;width:164.29999999999995px;height:0.6999999999999886px;background:#eef0f4;"></div>
<svg class="b" style="left:0px;top:0px;pointer-events:none;" width="800" height="600" viewBox="0 0 800 600"><path d="M689.10 399.50 A24.1 24.1 0 0 1 712.02 416.15" fill="none" stroke="#45a648" stroke-width="9.8"/><path d="M712.02 416.15 A24.1 24.1 0 0 1 695.50 446.83" fill="none" stroke="#5ac2ea" stroke-width="9.8"/><path d="M695.50 446.83 A24.1 24.1 0 0 1 674.63 442.87" fill="none" stroke="#f8c750" stroke-width="9.8"/><path d="M674.63 442.87 A24.1 24.1 0 0 1 669.50 409.57" fill="none" stroke="#72c892" stroke-width="9.8"/><path d="M669.50 409.57 A24.1 24.1 0 0 1 689.10 399.50" fill="none" stroke="#e8566e" stroke-width="9.8"/><path d="M689.10 404.40 L689.10 394.10" stroke="#fff" stroke-width="0.5"/><path d="M707.36 417.67 L717.16 414.48" stroke="#fff" stroke-width="0.5"/><path d="M694.20 442.11 L696.93 452.04" stroke="#fff" stroke-width="0.5"/><path d="M677.57 438.95 L671.39 447.19" stroke="#fff" stroke-width="0.5"/><path d="M673.49 412.42 L665.11 406.43" stroke="#fff" stroke-width="0.5"/></svg>
<div class="b" style="left:735.3px;top:405.5px;width:3.6000000000000227px;height:3.6000000000000227px;background:#45a648;border-radius:50%;"></div>
<div class="t" style="left:740.80px;top:404.83px;font-size:5.05px;color:#3e4452;font-weight:400;">Accepted</div>
<div class="b" style="left:735.3px;top:414.73px;width:3.6000000000000227px;height:3.6000000000000227px;background:#5ac2ea;border-radius:50%;"></div>
<div class="t" style="left:740.80px;top:414.06px;font-size:5.05px;color:#3e4452;font-weight:400;">Rejected</div>
<div class="b" style="left:735.3px;top:423.96px;width:3.6000000000000227px;height:3.6000000000000227px;background:#f8c750;border-radius:50%;"></div>
<div class="t" style="left:740.80px;top:423.29px;font-size:5.05px;color:#3e4452;font-weight:400;">Dispatched</div>
<div class="b" style="left:735.3px;top:433.19px;width:3.6000000000000227px;height:3.6000000000000227px;background:#72c892;border-radius:50%;"></div>
<div class="t" style="left:740.80px;top:432.52px;font-size:5.05px;color:#3e4452;font-weight:400;">Delivered</div>
<div class="b" style="left:735.3px;top:442.42px;width:3.6000000000000227px;height:3.6000000000000227px;background:#e8566e;border-radius:50%;"></div>
<div class="t" style="left:740.80px;top:441.75px;font-size:5.05px;color:#3e4452;font-weight:400;">Cancelled</div>
<div class="b" style="left:105px;top:254.1px;width:208px;height:219.70000000000002px;background:#fff;border-radius:3px;box-shadow:0 0.5px 1.5px rgba(30,40,60,0.06);"></div>
<div class="t" style="left:111.80px;top:259.30px;font-size:7.35px;color:#343b49;font-weight:400;">Recent Activities</div>
<div class="b" style="left:105px;top:271.8px;width:208px;height:0.6999999999999886px;background:#eef0f4;"></div>
<div class="b" style="left:122.4px;top:299.20px;width:0;height:9.00px;border-left:0.9px dotted #1fa6df;opacity:0.3;"></div>
<div class="b" style="left:113.5px;top:280.54999999999995px;width:18.69999999999999px;height:18.700000000000045px;background:#c8ebfa;border-radius:50%;"></div>
<div class="b" style="left:115.8px;top:282.84999999999997px;width:14.100000000000009px;height:14.100000000000023px;background:#1fa6df;border-radius:50%;"></div>
<svg class="b" style="left:119.85px;top:286.9px;" width="6" height="6" viewBox="0 0 6 6"><g fill="none" stroke="#fff" stroke-width="0.7"><rect x="0.6" y="1.2" width="4.8" height="3.8" rx="0.4"/><path d="M0.6 1.6 L3 3.2 L5.4 1.6"/></g></svg>
<div class="t" style="left:139.00px;top:281.90px;font-size:6.12px;color:#464c59;font-weight:400;">Nile Robetz mentioned a jogh in post</div>
<div class="t" style="left:139.00px;top:291.63px;font-size:5.25px;color:#9aa0aa;font-weight:400;">Uploaded a new post</div>
<div class="t" style="left:286.33px;top:283.37px;font-size:4.95px;color:#8a909b;font-weight:400;letter-spacing:-0.25px;">11:17 am</div>
<svg class="b" style="left:279.62820312499997px;top:282.54999999999995px;" width="5.5" height="5.5" viewBox="0 0 5.5 5.5"><g fill="none" stroke="#8f95a0" stroke-width="0.5"><circle cx="2.75" cy="2.75" r="2.35"/><path d="M2.75 1.4 V2.85 L3.7 3.5"/></g></svg>
<div class="b" style="left:122.4px;top:326.80px;width:0;height:9.00px;border-left:0.9px dotted #e3264a;opacity:0.3;"></div>
<div class="b" style="left:113.5px;top:308.15px;width:18.69999999999999px;height:18.700000000000045px;background:#f9cdd7;border-radius:50%;"></div>
<div class="b" style="left:115.8px;top:310.45px;width:14.100000000000009px;height:14.100000000000023px;background:#e3264a;border-radius:50%;"></div>
<svg class="b" style="left:119.85px;top:314.5px;" width="6" height="6" viewBox="0 0 6 6"><g fill="none" stroke="#fff" stroke-width="0.7"><circle cx="3" cy="3" r="1.1"/><path d="M3 0.3V1.1M3 4.9V5.7M0.3 3H1.1M4.9 3H5.7M1.1 1.1L1.6 1.6M4.4 4.4L4.9 4.9M1.1 4.9L1.6 4.4M4.4 1.6L4.9 1.1"/></g></svg>
<div class="t" style="left:139.00px;top:309.50px;font-size:6.12px;color:#464c59;font-weight:400;">Always look on the bright side of life</div>
<div class="t" style="left:139.00px;top:319.23px;font-size:5.25px;color:#9aa0aa;font-weight:400;">Look at the Life</div>
<div class="t" style="left:285.96px;top:310.97px;font-size:4.95px;color:#8a909b;font-weight:400;letter-spacing:-0.25px;">08:19 am</div>
<svg class="b" style="left:279.26082031249996px;top:310.15px;" width="5.5" height="5.5" viewBox="0 0 5.5 5.5"><g fill="none" stroke="#8f95a0" stroke-width="0.5"><circle cx="2.75" cy="2.75" r="2.35"/><path d="M2.75 1.4 V2.85 L3.7 3.5"/></g></svg>
<div class="b" style="left:122.4px;top:354.40px;width:0;height:9.00px;border-left:0.9px dotted #3fae4a;opacity:0.3;"></div>
<div class="b" style="left:113.5px;top:335.74999999999994px;width:18.69999999999999px;height:18.700000000000045px;background:#cfeed3;border-radius:50%;"></div>
<div class="b" style="left:115.8px;top:338.04999999999995px;width:14.100000000000009px;height:14.100000000000023px;background:#3fae4a;border-radius:50%;"></div>
<svg class="b" style="left:119.85px;top:342.09999999999997px;" width="6" height="6" viewBox="0 0 6 6"><g fill="none" stroke="#fff" stroke-width="0.7"><circle cx="3" cy="3" r="2.4"/><path d="M3 0.6 V5.4 M3 3.2 L1.3 4.7 M3 3.2 L4.7 4.7"/></g></svg>
<div class="t" style="left:139.00px;top:337.10px;font-size:6.12px;color:#464c59;font-weight:400;">Peace on earth a wonderful width</div>
<div class="t" style="left:139.00px;top:346.83px;font-size:5.25px;color:#9aa0aa;font-weight:400;">Wonderful earth gives a peace</div>
<div class="t" style="left:285.96px;top:338.57px;font-size:4.95px;color:#8a909b;font-weight:400;letter-spacing:-0.25px;">10:43 am</div>
<svg class="b" style="left:279.26082031249996px;top:337.74999999999994px;" width="5.5" height="5.5" viewBox="0 0 5.5 5.5"><g fill="none" stroke="#8f95a0" stroke-width="0.5"><circle cx="2.75" cy="2.75" r="2.35"/><path d="M2.75 1.4 V2.85 L3.7 3.5"/></g></svg>
<div class="b" style="left:122.4px;top:382.00px;width:0;height:9.00px;border-left:0.9px dotted #f5b324;opacity:0.3;"></div>
<div class="b" style="left:113.5px;top:363.34999999999997px;width:18.69999999999999px;height:18.700000000000045px;background:#fcebc2;border-radius:50%;"></div>
<div class="b" style="left:115.8px;top:365.65px;width:14.100000000000009px;height:14.100000000000023px;background:#f5b324;border-radius:50%;"></div>
<svg class="b" style="left:119.85px;top:369.7px;" width="6" height="6" viewBox="0 0 6 6"><g fill="none" stroke="#fff" stroke-width="0.7"><circle cx="3" cy="3" r="2.4"/><path d="M3 1.6 V3.1 L4 3.8"/></g></svg>
<div class="t" style="left:139.00px;top:364.70px;font-size:6.12px;color:#464c59;font-weight:400;">A brief history of creation</div>
<div class="t" style="left:139.00px;top:374.43px;font-size:5.25px;color:#9aa0aa;font-weight:400;">Create your own history</div>
<div class="t" style="left:285.96px;top:366.17px;font-size:4.95px;color:#8a909b;font-weight:400;letter-spacing:-0.25px;">07:27 pm</div>
<svg class="b" style="left:279.26082031249996px;top:365.34999999999997px;" width="5.5" height="5.5" viewBox="0 0 5.5 5.5"><g fill="none" stroke="#8f95a0" stroke-width="0.5"><circle cx="2.75" cy="2.75" r="2.35"/><path d="M2.75 1.4 V2.85 L3.7 3.5"/></g></svg>
<div class="b" style="left:122.4px;top:409.60px;width:0;height:9.00px;border-left:0.9px dotted #e3264a;opacity:0.3;"></div>
<div class="b" style="left:113.5px;top:390.94999999999993px;width:18.69999999999999px;height:18.700000000000045px;background:#f9cdd7;border-radius:50%;"></div>
<div class="b" style="left:115.8px;top:393.24999999999994px;width:14.100000000000009px;height:14.100000000000023px;background:#e3264a;border-radius:50%;"></div>
<svg class="b" style="left:119.85px;top:397.29999999999995px;" width="6" height="6" viewBox="0 0 6 6"><g fill="none" stroke="#fff" stroke-width="0.7"><circle cx="3" cy="3" r="1.1"/><path d="M3 0.3V1.1M3 4.9V5.7M0.3 3H1.1M4.9 3H5.7M1.1 1.1L1.6 1.6M4.4 4.4L4.9 4.9M1.1 4.9L1.6 4.4M4.4 1.6L4.9 1.1"/></g></svg>
<div class="t" style="left:139.00px;top:392.30px;font-size:6.12px;color:#464c59;font-weight:400;">Always look on the bright side of life</div>
<div class="t" style="left:139.00px;top:402.03px;font-size:5.25px;color:#9aa0aa;font-weight:400;">Look at the Life</div>
<div class="t" style="left:285.96px;top:393.77px;font-size:4.95px;color:#8a909b;font-weight:400;letter-spacing:-0.25px;">08:19 am</div>
<svg class="b" style="left:279.26082031249996px;top:392.94999999999993px;" width="5.5" height="5.5" viewBox="0 0 5.5 5.5"><g fill="none" stroke="#8f95a0" stroke-width="0.5"><circle cx="2.75" cy="2.75" r="2.35"/><path d="M2.75 1.4 V2.85 L3.7 3.5"/></g></svg>
<div class="b" style="left:122.4px;top:437.20px;width:0;height:9.00px;border-left:0.9px dotted #1fa6df;opacity:0.3;"></div>
<div class="b" style="left:113.5px;top:418.54999999999995px;width:18.69999999999999px;height:18.700000000000045px;background:#c8ebfa;border-radius:50%;"></div>
<div class="b" style="left:115.8px;top:420.84999999999997px;width:14.100000000000009px;height:14.100000000000023px;background:#1fa6df;border-radius:50%;"></div>
<svg class="b" style="left:119.85px;top:424.9px;" width="6" height="6" viewBox="0 0 6 6"><g fill="none" stroke="#fff" stroke-width="0.7"><rect x="0.6" y="1.2" width="4.8" height="3.8" rx="0.4"/><path d="M0.6 1.6 L3 3.2 L5.4 1.6"/></g></svg>
<div class="t" style="left:139.00px;top:419.90px;font-size:6.12px;color:#464c59;font-weight:400;">Nile Robetz mentioned a jogh in post</div>
<div class="t" style="left:139.00px;top:429.63px;font-size:5.25px;color:#9aa0aa;font-weight:400;">Uploaded a new post</div>
<div class="t" style="left:286.33px;top:421.37px;font-size:4.95px;color:#8a909b;font-weight:400;letter-spacing:-0.25px;">11:17 am</div>
<svg class="b" style="left:279.62820312499997px;top:420.54999999999995px;" width="5.5" height="5.5" viewBox="0 0 5.5 5.5"><g fill="none" stroke="#8f95a0" stroke-width="0.5"><circle cx="2.75" cy="2.75" r="2.35"/><path d="M2.75 1.4 V2.85 L3.7 3.5"/></g></svg>
<div class="b" style="left:113.5px;top:446.15px;width:18.69999999999999px;height:18.700000000000045px;background:#cfeed3;border-radius:50%;"></div>
<div class="b" style="left:115.8px;top:448.45px;width:14.100000000000009px;height:14.100000000000023px;background:#3fae4a;border-radius:50%;"></div>
<svg class="b" style="left:119.85px;top:452.5px;" width="6" height="6" viewBox="0 0 6 6"><g fill="none" stroke="#fff" stroke-width="0.7"><path d="M3 2.5 V5.3"/><path d="M1.6 1.6 A2 2 0 0 0 1.6 4.4 M4.4 1.6 A2 2 0 0 1 4.4 4.4"/><circle cx="3" cy="3" r="0.5" fill="#fff"/></g></svg>
<div class="t" style="left:139.00px;top:447.50px;font-size:6.12px;color:#464c59;font-weight:400;">The science of superstitions.</div>
<div class="t" style="left:139.00px;top:457.23px;font-size:5.25px;color:#9aa0aa;font-weight:400;">Volume is a superstitions</div>
<div class="t" style="left:285.96px;top:448.97px;font-size:4.95px;color:#8a909b;font-weight:400;letter-spacing:-0.25px;">10:09 am</div>
<svg class="b" style="left:279.26082031249996px;top:448.15px;" width="5.5" height="5.5" viewBox="0 0 5.5 5.5"><g fill="none" stroke="#8f95a0" stroke-width="0.5"><circle cx="2.75" cy="2.75" r="2.35"/><path d="M2.75 1.4 V2.85 L3.7 3.5"/></g></svg>
<div class="b" style="left:323px;top:254.5px;width:295.79999999999995px;height:216.3px;background:#fff;border-radius:3px;box-shadow:0 0.5px 1.5px rgba(30,40,60,0.06);"></div>
<div class="t" style="left:330.10px;top:263.02px;font-size:7.1px;color:#343b49;font-weight:400;">Best Selling Products</div>
<div class="b" style="left:570px;top:259px;width:42.200000000000045px;height:11.899999999999977px;border:0.7px solid #edf0f4;border-radius:3px;box-sizing:border-box;"></div>
<div class="t" style="left:575.50px;top:262.65px;font-size:5.0px;color:#4a5160;font-weight:400;">This Month</div>
<svg class="b" style="left:604.3px;top:264px;" width="3" height="2" viewBox="0 0 3 2"><path d="M0 0 H3 L1.5 1.8 Z" fill="#6b7280"/></svg>
<div class="b" style="left:323px;top:275.9px;width:295.79999999999995px;height:0.7000000000000455px;background:#eef0f4;"></div>
<div class="t" style="left:333.90px;top:281.51px;font-size:6.3px;color:#3b4251;font-weight:400;">Products</div>
<div class="t" style="left:455.70px;top:281.51px;font-size:6.3px;color:#3b4251;font-weight:400;">Categories</div>
<div class="t" style="left:513.90px;top:281.51px;font-size:6.3px;color:#3b4251;font-weight:400;">Sold</div>
<div class="t" style="left:544.60px;top:281.51px;font-size:6.3px;color:#3b4251;font-weight:400;">Price</div>
<div class="t" style="left:576.50px;top:281.51px;font-size:6.3px;color:#3b4251;font-weight:400;">Earnings</div>
<div class="b" style="left:323px;top:291.7px;width:295.79999999999995px;height:0.6999999999999886px;background:#eef0f4;"></div>
<div class="b" style="left:333.5px;top:297.5px;width:18.399999999999977px;height:18.80000000000001px;background:#ededed;border-radius:3px;"></div>
<svg class="b" style="left:333.5px;top:297.5px;" width="18.4" height="18.8" viewBox="0 0 18.4 18.8"><path d="M4.3 10.5 C4.3 4.2 13.7 4.2 13.7 10.5" fill="none" stroke="#fbfbfb" stroke-width="1.6"/><path d="M4.3 10.5 C4.3 4.2 13.7 4.2 13.7 10.5" fill="none" stroke="#cfcfcf" stroke-width="0.5"/><rect x="3" y="9.2" width="3" height="4.8" rx="1.3" fill="#fdfdfd" stroke="#c4c4c4" stroke-width="0.5"/><rect x="12" y="9.2" width="3" height="4.8" rx="1.3" fill="#fdfdfd" stroke="#c4c4c4" stroke-width="0.5"/></svg>
<div class="t" style="left:355.60px;top:304.51px;font-size:6.3px;color:#3b4251;font-weight:400;">Flower Pot</div>
<div class="t" style="left:455.70px;top:304.51px;font-size:6.3px;color:#3b4251;font-weight:400;">Gadgets</div>
<div class="b" style="left:513.9px;top:303.9px;width:13.300000000000068px;height:7.0px;background:#d6efd8;border-radius:3.5px;"></div>
<div class="t" style="left:370.55px;width:300px;text-align:center;top:305.39px;font-size:4.3px;color:#4aa851;font-weight:400;">457</div>
<div class="t" style="left:544.60px;top:304.31px;font-size:6.1px;color:#3b4251;font-weight:400;">$97</div>
<div class="t" style="left:576.50px;top:304.31px;font-size:6.1px;color:#3b4251;font-weight:400;letter-spacing:-0.15px;">$74,890</div>
<div class="b" style="left:323px;top:321.59999999999997px;width:295.79999999999995px;height:0.6999999999999886px;background:#f0f2f5;"></div>
<div class="b" style="left:333.5px;top:327.4px;width:18.399999999999977px;height:18.80000000000001px;background:#cadff7;border-radius:3px;"></div>
<svg class="b" style="left:333.5px;top:327.4px;" width="18.4" height="18.8" viewBox="0 0 18.4 18.8"><circle cx="9.2" cy="9.8" r="2.7" fill="#6a9cd6"/><circle cx="9.2" cy="9.8" r="1.8" fill="#f4f8fc"/><circle cx="7.3" cy="7.2" r="1" fill="#4f86c6"/><circle cx="11.1" cy="7.2" r="1" fill="#4f86c6"/><path d="M9.2 8.8 V9.9 L9.9 10.4" stroke="#4f86c6" stroke-width="0.4" fill="none"/><path d="M7.4 12.2 L6.8 13 M11 12.2 L11.6 13" stroke="#4f86c6" stroke-width="0.5"/></svg>
<div class="t" style="left:355.60px;top:334.41px;font-size:6.3px;color:#3b4251;font-weight:400;">Photo Frame</div>
<div class="t" style="left:455.70px;top:334.41px;font-size:6.3px;color:#3b4251;font-weight:400;">Fashion</div>
<div class="b" style="left:513.9px;top:333.79999999999995px;width:13.300000000000068px;height:7.0px;background:#d6efd8;border-radius:3.5px;"></div>
<div class="t" style="left:370.55px;width:300px;text-align:center;top:335.29px;font-size:4.3px;color:#4aa851;font-weight:400;">876</div>
<div class="t" style="left:544.60px;top:334.21px;font-size:6.1px;color:#3b4251;font-weight:400;">$97</div>
<div class="t" style="left:576.50px;top:334.21px;font-size:6.1px;color:#3b4251;font-weight:400;letter-spacing:-0.15px;">$74,890</div>
<div class="b" style="left:323px;top:351.5px;width:295.79999999999995px;height:0.6999999999999886px;background:#f0f2f5;"></div>
<div class="b" style="left:333.5px;top:357.3px;width:18.399999999999977px;height:18.80000000000001px;background:#c8efd9;border-radius:3px;"></div>
<svg class="b" style="left:333.5px;top:357.3px;" width="18.4" height="18.8" viewBox="0 0 18.4 18.8"><path d="M3 6.2 L10.5 5.2 L12.5 6 L14.6 12.4 L13.5 13.6 L4.5 14 L3.2 12.6 Z" fill="#151617"/><path d="M5 6.5 L5.5 13.5 M9 6 L9.2 13.6" stroke="#2c2e30" stroke-width="0.5"/><path d="M14.2 13.5 L16 14.2" stroke="#151617" stroke-width="0.6"/></svg>
<div class="t" style="left:355.60px;top:364.31px;font-size:6.3px;color:#3b4251;font-weight:400;">Nylon White tshirt</div>
<div class="t" style="left:455.70px;top:364.31px;font-size:6.3px;color:#3b4251;font-weight:400;">Smart Home</div>
<div class="b" style="left:513.9px;top:363.7px;width:13.300000000000068px;height:7.0px;background:#d6efd8;border-radius:3.5px;"></div>
<div class="t" style="left:370.55px;width:300px;text-align:center;top:365.19px;font-size:4.3px;color:#4aa851;font-weight:400;">432</div>
<div class="t" style="left:544.60px;top:364.11px;font-size:6.1px;color:#3b4251;font-weight:400;">$97</div>
<div class="t" style="left:576.50px;top:364.11px;font-size:6.1px;color:#3b4251;font-weight:400;letter-spacing:-0.15px;">$74,890</div>
<div class="b" style="left:323px;top:381.4px;width:295.79999999999995px;height:0.6999999999999886px;background:#f0f2f5;"></div>
<div class="b" style="left:333.5px;top:387.2px;width:18.399999999999977px;height:18.80000000000001px;background:#d3e8f5;border-radius:3px;"></div>
<svg class="b" style="left:333.5px;top:387.2px;" width="18.4" height="18.8" viewBox="0 0 18.4 18.8"><rect x="5.4" y="5" width="7.4" height="8.6" fill="none" stroke="#8b7d70" stroke-width="1"/><rect x="6.3" y="5.9" width="5.6" height="6.8" fill="#f4f6f8"/><circle cx="5.4" cy="5.2" r="1.3" fill="#c0392b"/><circle cx="4.3" cy="4.6" r="0.8" fill="#c0392b"/><path d="M6.6 4.2 L8 4.6" stroke="#2e7d32" stroke-width="0.6"/><circle cx="12.9" cy="13.2" r="1.3" fill="#c0392b"/><circle cx="14" cy="12.3" r="0.8" fill="#c0392b"/><path d="M11.2 14 L10 14.4" stroke="#2e7d32" stroke-width="0.6"/></svg>
<div class="t" style="left:355.60px;top:394.21px;font-size:6.3px;color:#3b4251;font-weight:400;">Pink Tape mens shoes</div>
<div class="t" style="left:455.70px;top:394.21px;font-size:6.3px;color:#3b4251;font-weight:400;">Bags</div>
<div class="b" style="left:513.9px;top:393.59999999999997px;width:13.300000000000068px;height:7.0px;background:#d6efd8;border-radius:3.5px;"></div>
<div class="t" style="left:370.55px;width:300px;text-align:center;top:395.09px;font-size:4.3px;color:#4aa851;font-weight:400;">234</div>
<div class="t" style="left:544.60px;top:394.01px;font-size:6.1px;color:#3b4251;font-weight:400;">$97</div>
<div class="t" style="left:576.50px;top:394.01px;font-size:6.1px;color:#3b4251;font-weight:400;letter-spacing:-0.15px;">$74,890</div>
<div class="b" style="left:323px;top:411.3px;width:295.79999999999995px;height:0.6999999999999886px;background:#f0f2f5;"></div>
<div class="b" style="left:333.5px;top:417.1px;width:18.399999999999977px;height:18.80000000000001px;background:#eec3d3;border-radius:3px;"></div>
<svg class="b" style="left:333.5px;top:417.1px;" width="18.4" height="18.8" viewBox="0 0 18.4 18.8"><path d="M4.6 6 C4.6 4.4 8.6 4.4 8.6 6 L8.4 10.8 L5 10.8 Z" fill="#6e6e72"/><path d="M9.6 6 C9.6 4.4 13.6 4.4 13.6 6 L13.2 10.8 L9.8 10.8 Z" fill="#6e6e72"/><path d="M5.3 6.5 H8 M5.3 8 H8 M5.3 9.5 H8 M10.2 6.5 H12.9 M10.2 8 H12.9 M10.2 9.5 H12.9" stroke="#c9c9cc" stroke-width="0.5"/><path d="M5 10.8 H8.4 V11.8 H5 Z M9.8 10.8 H13.2 V11.8 H9.8 Z" fill="#2a2a2c"/><ellipse cx="8.6" cy="13.6" rx="1.6" ry="1.8" fill="#c0392b"/><path d="M8 11.9 L9.2 11.9" stroke="#2e7d32" stroke-width="0.6"/></svg>
<div class="t" style="left:355.60px;top:424.11px;font-size:6.3px;color:#3b4251;font-weight:400;">DSLR Camera</div>
<div class="t" style="left:455.70px;top:424.11px;font-size:6.3px;color:#3b4251;font-weight:400;">Electronics</div>
<div class="b" style="left:513.9px;top:423.5px;width:13.300000000000068px;height:7.0px;background:#d6efd8;border-radius:3.5px;"></div>
<div class="t" style="left:370.55px;width:300px;text-align:center;top:424.99px;font-size:4.3px;color:#4aa851;font-weight:400;">678</div>
<div class="t" style="left:544.60px;top:423.91px;font-size:6.1px;color:#3b4251;font-weight:400;">$97</div>
<div class="t" style="left:576.50px;top:423.91px;font-size:6.1px;color:#3b4251;font-weight:400;letter-spacing:-0.15px;">$74,890</div>
<div class="b" style="left:323px;top:441.2px;width:295.79999999999995px;height:0.6999999999999886px;background:#f0f2f5;"></div>
<div class="b" style="left:333.5px;top:447.0px;width:18.399999999999977px;height:18.80000000000001px;background:#cadff7;border-radius:3px;"></div>
<svg class="b" style="left:333.5px;top:447.0px;" width="18.4" height="18.8" viewBox="0 0 18.4 18.8"><circle cx="9.2" cy="9.8" r="2.7" fill="#6a9cd6"/><circle cx="9.2" cy="9.8" r="1.8" fill="#f4f8fc"/><circle cx="7.3" cy="7.2" r="1" fill="#4f86c6"/><circle cx="11.1" cy="7.2" r="1" fill="#4f86c6"/><path d="M9.2 8.8 V9.9 L9.9 10.4" stroke="#4f86c6" stroke-width="0.4" fill="none"/><path d="M7.4 12.2 L6.8 13 M11 12.2 L11.6 13" stroke="#4f86c6" stroke-width="0.5"/></svg>
<div class="t" style="left:355.60px;top:454.01px;font-size:6.3px;color:#3b4251;font-weight:400;">Photo Frame</div>
<div class="t" style="left:455.70px;top:454.01px;font-size:6.3px;color:#3b4251;font-weight:400;">Fashion</div>
<div class="b" style="left:513.9px;top:453.4px;width:13.300000000000068px;height:7.0px;background:#d6efd8;border-radius:3.5px;"></div>
<div class="t" style="left:370.55px;width:300px;text-align:center;top:454.89px;font-size:4.3px;color:#4aa851;font-weight:400;">876</div>
<div class="t" style="left:544.60px;top:453.81px;font-size:6.1px;color:#3b4251;font-weight:400;">$97</div>
<div class="t" style="left:576.50px;top:453.81px;font-size:6.1px;color:#3b4251;font-weight:400;letter-spacing:-0.15px;">$74,890</div>
<div class="b" style="left:105px;top:484px;width:688.3px;height:126px;background:#fff;border-radius:3px;box-shadow:0 0.5px 1.5px rgba(30,40,60,0.06);"></div>
<div class="t" style="left:111.80px;top:489.72px;font-size:7.1px;color:#343b49;font-weight:400;">Product Sales</div>
<div class="b" style="left:105px;top:501.8px;width:688.3px;height:0.6999999999999886px;background:#eef0f4;"></div>
<div class="t" style="left:113.80px;top:513.91px;font-size:5.9px;color:#3b4251;font-weight:400;">Show</div>
<div class="b" style="left:130px;top:508.8px;width:26.30000000000001px;height:15.599999999999966px;border:0.7px solid #edf0f4;border-radius:3px;box-sizing:border-box;"></div>
<div class="t" style="left:135.40px;top:514.16px;font-size:6.2px;color:#3b4251;font-weight:400;">10</div>
<svg class="b" style="left:149px;top:516.1px;" width="3" height="2" viewBox="0 0 3 2"><path d="M0 0 H3 L1.5 1.8 Z" fill="#6b7280"/></svg>
<div class="t" style="left:158.20px;top:513.91px;font-size:5.9px;color:#3b4251;font-weight:400;">entries</div>
<div class="b" style="left:720px;top:510.1px;width:64.70000000000005px;height:11.299999999999955px;border:0.7px solid #edf0f4;border-radius:2px;box-sizing:border-box;"></div>
<div class="t" style="left:723.00px;top:513.65px;font-size:4.6px;color:#9aa0aa;font-weight:400;">Search...</div>
<svg class="b" style="left:0px;top:0px;pointer-events:none;" width="800" height="600" viewBox="0 0 800 600"><path d="M113.1 531 V600" stroke="#e9ecf0" stroke-width="0.7"/><path d="M143.8 531 V600" stroke="#e9ecf0" stroke-width="0.7"/><path d="M206.8 531 V600" stroke="#e9ecf0" stroke-width="0.7"/><path d="M334.5 531 V600" stroke="#e9ecf0" stroke-width="0.7"/><path d="M404.9 531 V600" stroke="#e9ecf0" stroke-width="0.7"/><path d="M479.6 531 V600" stroke="#e9ecf0" stroke-width="0.7"/><path d="M530.9 531 V600" stroke="#e9ecf0" stroke-width="0.7"/><path d="M598.4 531 V600" stroke="#e9ecf0" stroke-width="0.7"/><path d="M650.2 531 V600" stroke="#e9ecf0" stroke-width="0.7"/><path d="M731.6 531 V600" stroke="#e9ecf0" stroke-width="0.7"/><path d="M784.7 531 V600" stroke="#e9ecf0" stroke-width="0.7"/><path d="M113.1 531 H784.7" stroke="#e9ecf0" stroke-width="0.7"/><path d="M113.1 546.3 H784.7" stroke="#e9ecf0" stroke-width="0.7"/><path d="M113.1 568.2 H784.7" stroke="#e9ecf0" stroke-width="0.7"/><path d="M113.1 590.5 H784.7" stroke="#e9ecf0" stroke-width="0.7"/><path d="M113.1 612.8 H784.7" stroke="#e9ecf0" stroke-width="0.7"/></svg>
<div class="b" style="left:123.3px;top:535.9px;width:6.1000000000000085px;height:6.100000000000023px;border-radius:1px;background:#eaeef5;"></div>
<div class="t" style="left:148.10px;top:536.46px;font-size:6.4px;color:#3b4251;font-weight:400;">Order no</div>
<svg class="b" style="left:195.5px;top:536.6px;" width="4.5" height="4.5" viewBox="0 0 4.5 4.5"><g stroke="#c4c9d0" stroke-width="0.45" fill="none"><path d="M1.1 4.2 V0.5 M0.2 1.4 L1.1 0.5 L2 1.4"/><path d="M3.4 0.3 V4 M2.5 3.1 L3.4 4 L4.3 3.1"/></g></svg>
<div class="t" style="left:210.70px;top:536.46px;font-size:6.4px;color:#3b4251;font-weight:400;">Product</div>
<svg class="b" style="left:326.0px;top:536.6px;" width="4.5" height="4.5" viewBox="0 0 4.5 4.5"><g stroke="#c4c9d0" stroke-width="0.45" fill="none"><path d="M1.1 4.2 V0.5 M0.2 1.4 L1.1 0.5 L2 1.4"/><path d="M3.4 0.3 V4 M2.5 3.1 L3.4 4 L4.3 3.1"/></g></svg>
<div class="t" style="left:339.70px;top:536.46px;font-size:6.4px;color:#3b4251;font-weight:400;">Ratings</div>
<svg class="b" style="left:396.0px;top:536.6px;" width="4.5" height="4.5" viewBox="0 0 4.5 4.5"><g stroke="#c4c9d0" stroke-width="0.45" fill="none"><path d="M1.1 4.2 V0.5 M0.2 1.4 L1.1 0.5 L2 1.4"/><path d="M3.4 0.3 V4 M2.5 3.1 L3.4 4 L4.3 3.1"/></g></svg>
<div class="t" style="left:409.70px;top:536.46px;font-size:6.4px;color:#3b4251;font-weight:400;">Customer</div>
<svg class="b" style="left:472.3px;top:536.6px;" width="4.5" height="4.5" viewBox="0 0 4.5 4.5"><g stroke="#c4c9d0" stroke-width="0.45" fill="none"><path d="M1.1 4.2 V0.5 M0.2 1.4 L1.1 0.5 L2 1.4"/><path d="M3.4 0.3 V4 M2.5 3.1 L3.4 4 L4.3 3.1"/></g></svg>
<div class="t" style="left:355.30px;width:300px;text-align:center;top:536.46px;font-size:6.4px;color:#3b4251;font-weight:400;">Quantity</div>
<div class="t" style="left:535.90px;top:536.46px;font-size:6.4px;color:#3b4251;font-weight:400;">Status</div>
<svg class="b" style="left:591.5px;top:536.6px;" width="4.5" height="4.5" viewBox="0 0 4.5 4.5"><g stroke="#c4c9d0" stroke-width="0.45" fill="none"><path d="M1.1 4.2 V0.5 M0.2 1.4 L1.1 0.5 L2 1.4"/><path d="M3.4 0.3 V4 M2.5 3.1 L3.4 4 L4.3 3.1"/></g></svg>
<div class="t" style="left:604.30px;top:536.46px;font-size:6.4px;color:#3b4251;font-weight:400;">Price</div>
<svg class="b" style="left:643.3px;top:536.6px;" width="4.5" height="4.5" viewBox="0 0 4.5 4.5"><g stroke="#c4c9d0" stroke-width="0.45" fill="none"><path d="M1.1 4.2 V0.5 M0.2 1.4 L1.1 0.5 L2 1.4"/><path d="M3.4 0.3 V4 M2.5 3.1 L3.4 4 L4.3 3.1"/></g></svg>
<div class="t" style="left:655.10px;top:536.46px;font-size:6.4px;color:#3b4251;font-weight:400;">Ordered date</div>
<svg class="b" style="left:723.4px;top:536.6px;" width="4.5" height="4.5" viewBox="0 0 4.5 4.5"><g stroke="#c4c9d0" stroke-width="0.45" fill="none"><path d="M1.1 4.2 V0.5 M0.2 1.4 L1.1 0.5 L2 1.4"/><path d="M3.4 0.3 V4 M2.5 3.1 L3.4 4 L4.3 3.1"/></g></svg>
<div class="t" style="left:736.10px;top:536.46px;font-size:6.4px;color:#3b4251;font-weight:400;">Actions</div>
<div class="b" style="left:123.3px;top:554.2px;width:6.1000000000000085px;height:6.100000000000023px;background:#3fa843;border-radius:1px;"></div>
<svg class="b" style="left:124.3px;top:555.1px;" width="4.2" height="4.2" viewBox="0 0 4.2 4.2"><path d="M0.7 2.2 L1.7 3.2 L3.5 1" fill="none" stroke="#fff" stroke-width="0.7"/></svg>
<div class="t" style="left:148.30px;top:554.88px;font-size:5.75px;color:#3b4251;font-weight:400;">#1537890</div>
<div class="b" style="left:211px;top:552.3000000000001px;width:9.699999999999989px;height:9.699999999999932px;background:#8fb3b0;border-radius:1.5px;"></div>
<svg class="b" style="left:211.5px;top:552.8000000000001px;" width="8.8" height="8.8" viewBox="0 0 8.8 8.8"><path d="M2.5 1.5 L5.5 5 L7 5 L6.5 7.5 M5 5 L4 7.5" fill="none" stroke="#1f2a2a" stroke-width="1"/></svg>
<div class="t" style="left:224.50px;top:554.61px;font-size:5.9px;color:#3b4251;font-weight:400;">A semi minimal chair</div>
<div class="t" style="left:339.70px;top:554.56px;font-size:6.4px;color:#3b4251;font-weight:400;">5.0 <span style="font-size:5px;color:#8a909b">(90 Mem)</span></div>
<svg class="b" style="left:373.2px;top:555.3000000000001px;" width="4.6" height="4.6" viewBox="0 0 4.6 4.6"><path d="M2 0.1 L2.55 1.35 L3.9 1.45 L2.85 2.35 L3.2 3.7 L2 2.95 L0.8 3.7 L1.15 2.35 L0.1 1.45 L1.45 1.35 Z" fill="#f5b324" transform="scale(1.15)"/></svg>
<div class="t" style="left:409.90px;top:554.78px;font-size:5.95px;color:#3b4251;font-weight:400;">Simon Cowall</div>
<div class="t" style="left:355.30px;width:300px;text-align:center;top:554.78px;font-size:5.95px;color:#3b4251;font-weight:400;">1</div>
<div class="t" style="left:535.7px;top:554.30px;height:7px;line-height:7px;padding:0 3.1px;background:#d8f0dc;color:#3f9f48;font-size:4.6px;border-radius:1px;">Shipped</div>
<div class="t" style="left:604.20px;top:555.08px;font-size:5.95px;color:#3b4251;font-weight:400;">$4320.29</div>
<div class="t" style="left:655.30px;top:555.06px;font-size:6.0px;color:#3b4251;font-weight:400;">25 Mar 2022</div>
<div class="b" style="left:736.2px;top:552.0px;width:12.0px;height:11.900000000000091px;background:#d7eefa;border-radius:1.5px;"></div>
<svg class="b" style="left:739.7px;top:555.2px;" width="5" height="5" viewBox="0 0 5 5"><path d="M0.8 4.2 L1 3.2 L3.4 0.8 L4.2 1.6 L1.8 4 Z" fill="none" stroke="#2a9fd6" stroke-width="0.5"/></svg>
<div class="b" style="left:751.5px;top:552.0px;width:11.799999999999955px;height:11.900000000000091px;background:#fbdde1;border-radius:1.5px;"></div>
<svg class="b" style="left:755px;top:555.1px;" width="5" height="5.2" viewBox="0 0 5 5.2"><g fill="none" stroke="#e0405a" stroke-width="0.5"><path d="M0.6 1.2 H4.4 M1.9 1.2 V0.5 H3.1 V1.2 M1.1 1.2 L1.4 4.7 H3.6 L3.9 1.2"/></g></svg>
<div class="b" style="left:123.3px;top:576.5px;width:6.1000000000000085px;height:6.100000000000023px;border-radius:1px;background:#eaeef5;"></div>
<div class="t" style="left:148.30px;top:577.18px;font-size:5.75px;color:#3b4251;font-weight:400;">#1539078</div>
<div class="b" style="left:211px;top:574.6px;width:9.699999999999989px;height:9.699999999999932px;background:#5a6a78;border-radius:1.5px;"></div>
<svg class="b" style="left:211.5px;top:575.1px;" width="8.8" height="8.8" viewBox="0 0 8.8 8.8"><rect x="1.5" y="2.5" width="5.8" height="3.8" rx="0.8" fill="#eee"/><circle cx="3.6" cy="4.4" r="1.3" fill="#222"/></svg>
<div class="t" style="left:224.50px;top:576.91px;font-size:5.9px;color:#3b4251;font-weight:400;">Two type of watch sets</div>
<div class="t" style="left:339.70px;top:576.86px;font-size:6.4px;color:#3b4251;font-weight:400;">3.0 <span style="font-size:5px;color:#8a909b">(50 Mem)</span></div>
<svg class="b" style="left:373.2px;top:577.6px;" width="4.6" height="4.6" viewBox="0 0 4.6 4.6"><path d="M2 0.1 L2.55 1.35 L3.9 1.45 L2.85 2.35 L3.2 3.7 L2 2.95 L0.8 3.7 L1.15 2.35 L0.1 1.45 L1.45 1.35 Z" fill="#f5b324" transform="scale(1.15)"/></svg>
<div class="t" style="left:409.90px;top:577.08px;font-size:5.95px;color:#3b4251;font-weight:400;">Meisha Kerr</div>
<div class="t" style="left:355.30px;width:300px;text-align:center;top:577.08px;font-size:5.95px;color:#3b4251;font-weight:400;">2</div>
<div class="t" style="left:535.7px;top:576.60px;height:7px;line-height:7px;padding:0 3.1px;background:#fbd9de;color:#d9475a;font-size:4.6px;border-radius:1px;">Cancelled</div>
<div class="t" style="left:604.20px;top:577.38px;font-size:5.95px;color:#3b4251;font-weight:400;">$6745.99</div>
<div class="t" style="left:655.30px;top:577.36px;font-size:6.0px;color:#3b4251;font-weight:400;">25 Mar 2022</div>
<div class="b" style="left:736.2px;top:574.3px;width:12.0px;height:11.900000000000091px;background:#d7eefa;border-radius:1.5px;"></div>
<svg class="b" style="left:739.7px;top:577.5px;" width="5" height="5" viewBox="0 0 5 5"><path d="M0.8 4.2 L1 3.2 L3.4 0.8 L4.2 1.6 L1.8 4 Z" fill="none" stroke="#2a9fd6" stroke-width="0.5"/></svg>
<div class="b" style="left:751.5px;top:574.3px;width:11.799999999999955px;height:11.900000000000091px;background:#fbdde1;border-radius:1.5px;"></div>
<svg class="b" style="left:755px;top:577.4px;" width="5" height="5.2" viewBox="0 0 5 5.2"><g fill="none" stroke="#e0405a" stroke-width="0.5"><path d="M0.6 1.2 H4.4 M1.9 1.2 V0.5 H3.1 V1.2 M1.1 1.2 L1.4 4.7 H3.6 L3.9 1.2"/></g></svg>
<div class="b" style="left:123.3px;top:598.8000000000001px;width:6.1000000000000085px;height:6.100000000000023px;border-radius:1px;background:#eaeef5;"></div>
<div class="t" style="left:148.30px;top:599.48px;font-size:5.75px;color:#3b4251;font-weight:400;">#1520317</div>
<div class="b" style="left:211px;top:596.9000000000001px;width:9.699999999999989px;height:9.699999999999932px;background:#c8c8f0;border-radius:1.5px;"></div>
<div class="t" style="left:224.50px;top:599.21px;font-size:5.9px;color:#3b4251;font-weight:400;">Men&#39;s Smart Watch Leather</div>
<div class="t" style="left:339.70px;top:599.16px;font-size:6.4px;color:#3b4251;font-weight:400;">4.5 <span style="font-size:5px;color:#8a909b">(20 Mem)</span></div>
<svg class="b" style="left:373.2px;top:599.9000000000001px;" width="4.6" height="4.6" viewBox="0 0 4.6 4.6"><path d="M2 0.1 L2.55 1.35 L3.9 1.45 L2.85 2.35 L3.2 3.7 L2 2.95 L0.8 3.7 L1.15 2.35 L0.1 1.45 L1.45 1.35 Z" fill="#f5b324" transform="scale(1.15)"/></svg>
<div class="t" style="left:409.90px;top:599.38px;font-size:5.95px;color:#3b4251;font-weight:400;">Jacob Smith</div>
<div class="t" style="left:355.30px;width:300px;text-align:center;top:599.38px;font-size:5.95px;color:#3b4251;font-weight:400;">1</div>
<div class="t" style="left:535.7px;top:598.90px;height:7px;line-height:7px;padding:0 3.1px;background:#d2eef9;color:#2a9fd6;font-size:4.6px;border-radius:1px;">Under Process</div>
<div class="t" style="left:604.20px;top:599.68px;font-size:5.95px;color:#3b4251;font-weight:400;">$1176.89</div>
<div class="t" style="left:655.30px;top:599.66px;font-size:6.0px;color:#3b4251;font-weight:400;">27 Feb 2022</div>
<div class="b" style="left:736.2px;top:596.6px;width:12.0px;height:11.900000000000091px;background:#d7eefa;border-radius:1.5px;"></div>
<svg class="b" style="left:739.7px;top:599.8000000000001px;" width="5" height="5" viewBox="0 0 5 5"><path d="M0.8 4.2 L1 3.2 L3.4 0.8 L4.2 1.6 L1.8 4 Z" fill="none" stroke="#2a9fd6" stroke-width="0.5"/></svg>
<div class="b" style="left:751.5px;top:596.6px;width:11.799999999999955px;height:11.900000000000091px;background:#fbdde1;border-radius:1.5px;"></div>
<svg class="b" style="left:755px;top:599.7px;" width="5" height="5.2" viewBox="0 0 5 5.2"><g fill="none" stroke="#e0405a" stroke-width="0.5"><path d="M0.6 1.2 H4.4 M1.9 1.2 V0.5 H3.1 V1.2 M1.1 1.2 L1.4 4.7 H3.6 L3.9 1.2"/></g></svg>
</body></html>
